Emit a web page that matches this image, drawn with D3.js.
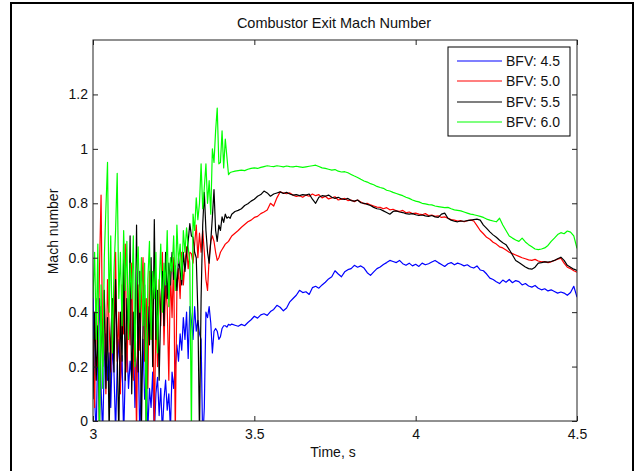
<!DOCTYPE html>
<html>
<head>
<meta charset="utf-8">
<script src="https://cdn.jsdelivr.net/npm/d3@7"></script>
<style>
  html, body { margin: 0; padding: 0; background: #fff; }
  svg { display: block; }
  text { font-family: "Liberation Sans", Arial, Helvetica, sans-serif; fill: #111; }
</style>
</head>
<body>
<svg id="chart" width="635" height="471"></svg>
<script>
// Sample grid: 5 ms steps through the unstable start-up, 10 ms steps afterwards
const fineTimes = d3.range(86).map(i => +(3 + i * 0.005).toFixed(3));     // 3.000 .. 3.425
const coarseTimes = d3.range(108).map(i => +(3.43 + i * 0.01).toFixed(2)); // 3.43 .. 4.50
const time = fineTimes.concat(coarseTimes);

const seriesNames = ["BFV: 4.5", "BFV: 5.0", "BFV: 5.5", "BFV: 6.0"];
const xTicks = [3, 3.5, 4, 4.5];
const yTicks = [0, 0.2, 0.4, 0.6, 0.8, 1, 1.2];

// Mach number at the combustor exit, one array per back-flow valve setting
const bfv45 = [
  0.50, 0.08, -0.05, 0.30, 0.45, 0.12, -0.05, 0.22, 0.32, 0.15,
  0.25, 0.05, 0.28, 0.18, -0.04, 0.20, 0.30, 0.14, 0.24, -0.06,
  0.18, 0.28, 0.12, 0.22, 0.16, 0.34, 0.05, 0.20, 0.26, -0.05,
  0.15, 0.30, 0.08, 0.14, -0.03, 0.12, 0.05, 0.18, -0.05, 0.10,
  0.16, 0.02, 0.12, -0.04, 0.08, 0.15, 0.04, 0.10, -0.03, 0.18,
  0.12, 0.20, 0.28, 0.22, 0.32, 0.26, 0.38, 0.30, 0.40, 0.23,
  0.42, 0.37, 0.30, 0.42, 0.33, 0.37, 0.32, 0.30, -0.08, 0.05,
  0.40, 0.38, 0.42, 0.36, 0.25, 0.33, 0.34, 0.33, 0.30, 0.31,
  0.34, 0.35, 0.35, 0.345, 0.355, 0.352,
  0.356, 0.352, 0.348, 0.355, 0.350, 0.362, 0.372, 0.385, 0.378, 0.390,
  0.394, 0.388, 0.402, 0.410, 0.425, 0.418, 0.405, 0.415, 0.438, 0.450,
  0.462, 0.480, 0.472, 0.475, 0.465, 0.490, 0.495, 0.488, 0.500, 0.510,
  0.522, 0.530, 0.552, 0.540, 0.530, 0.548, 0.556, 0.560, 0.572, 0.565,
  0.570, 0.562, 0.545, 0.535, 0.548, 0.560, 0.566, 0.575, 0.582, 0.590,
  0.586, 0.582, 0.590, 0.578, 0.572, 0.580, 0.570, 0.576, 0.568, 0.580,
  0.574, 0.578, 0.584, 0.590, 0.582, 0.575, 0.568, 0.578, 0.582, 0.574,
  0.580, 0.576, 0.570, 0.574, 0.566, 0.562, 0.570, 0.555, 0.552, 0.540,
  0.525, 0.520, 0.512, 0.505, 0.518, 0.510, 0.520, 0.508, 0.516, 0.512,
  0.500, 0.505, 0.496, 0.492, 0.498, 0.488, 0.482, 0.486, 0.478, 0.482,
  0.476, 0.470, 0.474, 0.470, 0.462, 0.472, 0.495, 0.455
];

const bfv50 = [
  0.30, 0.05, 0.45, 0.20, 0.55, 0.83, 0.25, 0.48, 0.10, 0.52,
  0.35, 0.18, 0.45, 0.30, 0.62, 0.22, 0.40, 0.10, 0.50, 0.32,
  0.65, 0.18, 0.42, 0.28, 0.58, 0.15, 0.38, -0.05, 0.50, 0.26,
  0.44, 0.60, 0.22, 0.45, 0.12, 0.55, 0.30, 0.48, -0.04, 0.40,
  0.20, 0.52, 0.35, 0.62, 0.28, 0.50, 0.42, 0.15, 0.55, 0.38,
  0.60, -0.05, 0.48, 0.56, 0.45, 0.62, 0.50, 0.58, 0.64, 0.56,
  0.62, 0.615, 0.58, 0.65, 0.72, 0.60, 0.69, 0.62, 0.70, 0.62,
  0.52, 0.48, 0.60, 0.66, 0.68, 0.66, 0.62, 0.59, 0.60, 0.62,
  0.63, 0.64, 0.65, 0.655, 0.66, 0.67,
  0.680, 0.690, 0.700, 0.712, 0.722, 0.732, 0.738, 0.748, 0.752, 0.762,
  0.768, 0.775, 0.800, 0.790, 0.820, 0.842, 0.838, 0.835, 0.838, 0.830,
  0.825, 0.828, 0.822, 0.830, 0.826, 0.834, 0.828, 0.832, 0.820, 0.826,
  0.816, 0.820, 0.824, 0.812, 0.815, 0.818, 0.810, 0.812, 0.806, 0.812,
  0.805, 0.798, 0.800, 0.794, 0.790, 0.786, 0.785, 0.780, 0.784, 0.776,
  0.778, 0.772, 0.770, 0.774, 0.765, 0.768, 0.762, 0.764, 0.760, 0.758,
  0.762, 0.755, 0.757, 0.752, 0.754, 0.748, 0.750, 0.745, 0.740, 0.738,
  0.735, 0.736, 0.732, 0.736, 0.738, 0.735, 0.718, 0.700, 0.688, 0.675,
  0.668, 0.657, 0.650, 0.640, 0.636, 0.628, 0.620, 0.615, 0.610, 0.605,
  0.600, 0.596, 0.592, 0.590, 0.594, 0.588, 0.585, 0.586, 0.582, 0.585,
  0.590, 0.595, 0.598, 0.580, 0.565, 0.560, 0.552, 0.547
];

const bfv55 = [
  0.08, 0.40, 0.15, 0.35, -0.05, 0.42, 0.20, 0.48, 0.12, 0.38,
  -0.04, 0.30, 0.45, 0.18, 0.52, 0.25, -0.05, 0.40, 0.22, 0.60,
  0.15, 0.45, 0.30, 0.68, 0.10, 0.40, 0.22, 0.72, 0.18, 0.55,
  -0.04, 0.35, 0.50, -0.05, 0.42, 0.28, 0.60, 0.20, 0.74, 0.30,
  0.48, 0.15, 0.42, 0.55, 0.35, 0.62, 0.45, 0.58, 0.50, 0.62,
  0.52, 0.57, 0.48, 0.60, 0.55, 0.50, 0.62, 0.55, 0.615, 0.66,
  0.725, 0.68, 0.675, 0.62, 0.60, 0.40, -0.05, 0.45, 0.72, 0.84,
  0.70, 0.62, 0.58, 0.66, 0.75, 0.85, 0.70, 0.66, 0.72, 0.70,
  0.75, 0.73, 0.76, 0.745, 0.75, 0.745,
  0.760, 0.770, 0.774, 0.780, 0.792, 0.798, 0.808, 0.815, 0.826, 0.832,
  0.845, 0.838, 0.826, 0.834, 0.838, 0.842, 0.836, 0.840, 0.834, 0.830,
  0.832, 0.828, 0.832, 0.830, 0.834, 0.815, 0.800, 0.822, 0.828, 0.826,
  0.830, 0.822, 0.818, 0.822, 0.816, 0.814, 0.818, 0.810, 0.808, 0.812,
  0.802, 0.800, 0.796, 0.792, 0.785, 0.780, 0.778, 0.772, 0.766, 0.760,
  0.770, 0.772, 0.768, 0.766, 0.762, 0.760, 0.762, 0.758, 0.755, 0.757,
  0.754, 0.752, 0.755, 0.750, 0.748, 0.760, 0.764, 0.745, 0.738, 0.734,
  0.732, 0.735, 0.734, 0.736, 0.738, 0.740, 0.742, 0.738, 0.720, 0.708,
  0.695, 0.684, 0.675, 0.664, 0.655, 0.648, 0.630, 0.610, 0.590, 0.582,
  0.574, 0.566, 0.560, 0.558, 0.565, 0.580, 0.582, 0.585, 0.584, 0.586,
  0.590, 0.596, 0.602, 0.590, 0.572, 0.565, 0.558, 0.553
];

const bfv60 = [
  0.45, 0.62, 0.30, 0.65, -0.05, 0.50, 0.12, 0.60, 0.78, 0.95,
  0.40, 0.68, 0.25, 0.55, 0.70, 0.91, 0.45, 0.62, 0.35, 0.70,
  0.48, 0.66, 0.30, 0.58, 0.45, 0.68, 0.20, 0.55, 0.64, 0.40,
  0.60, 0.35, 0.58, -0.05, 0.52, 0.66, 0.30, 0.55, 0.45, 0.62,
  0.25, 0.50, 0.65, 0.40, 0.58, 0.50, 0.70, 0.42, 0.60, 0.55,
  0.68, 0.48, 0.72, 0.58, 0.65, 0.52, 0.70, 0.62, 0.71, 0.64,
  0.58, -0.05, 0.76, 0.70, 0.82, 0.74, 0.80, 0.945, 0.78, 0.857,
  0.945, 0.80, 0.883, 0.76, 1.00, 0.95, 1.066, 1.15, 0.945, 0.95,
  1.066, 0.93, 1.036, 0.97, 0.905, 0.913,
  0.915, 0.918, 0.920, 0.922, 0.920, 0.925, 0.928, 0.930, 0.928, 0.932,
  0.935, 0.938, 0.936, 0.935, 0.938, 0.936, 0.934, 0.937, 0.935, 0.934,
  0.936, 0.934, 0.932, 0.934, 0.936, 0.938, 0.940, 0.935, 0.930, 0.928,
  0.925, 0.922, 0.924, 0.918, 0.915, 0.916, 0.912, 0.906, 0.900, 0.895,
  0.888, 0.882, 0.878, 0.872, 0.868, 0.862, 0.858, 0.855, 0.848, 0.845,
  0.840, 0.836, 0.832, 0.828, 0.822, 0.818, 0.812, 0.808, 0.805, 0.800,
  0.798, 0.795, 0.794, 0.790, 0.788, 0.786, 0.784, 0.785, 0.780, 0.776,
  0.774, 0.772, 0.768, 0.764, 0.760, 0.758, 0.755, 0.752, 0.748, 0.742,
  0.738, 0.735, 0.732, 0.745, 0.720, 0.700, 0.680, 0.672, 0.665, 0.660,
  0.672, 0.658, 0.648, 0.640, 0.632, 0.630, 0.632, 0.636, 0.645, 0.660,
  0.672, 0.685, 0.692, 0.688, 0.698, 0.694, 0.680, 0.634
];

const seriesValues = [bfv45, bfv50, bfv55, bfv60];
const seriesColors = ["#0000ff", "#ff0000", "#000000", "#00ff00"];

const svg = d3.select("#chart");

// Figure frame
svg.append("rect")
  .attr("x", 11).attr("y", 3)
  .attr("width", 622).attr("height", 480)
  .attr("fill", "none").attr("stroke", "#000").attr("stroke-width", 2);

const plot = { left: 93, right: 577, top: 40, bottom: 421 };

const x = d3.scaleLinear().domain([3, 4.5]).range([plot.left, plot.right]);
const y = d3.scaleLinear().domain([0, 1.4]).range([plot.bottom, plot.top]);

svg.append("clipPath").attr("id", "plot-clip")
  .append("rect")
  .attr("x", plot.left).attr("y", plot.top)
  .attr("width", plot.right - plot.left).attr("height", plot.bottom - plot.top);

// Data traces
const line = d3.line().x((d, i) => x(time[i])).y(d => y(d));
const traces = svg.append("g").attr("clip-path", "url(#plot-clip)");
seriesValues.forEach((vals, k) => {
  traces.append("path")
    .datum(vals)
    .attr("d", line)
    .attr("fill", "none")
    .attr("stroke", seriesColors[k])
    .attr("stroke-width", 1.2)
    .attr("stroke-linejoin", "round");
});

// Axes with inward ticks on all four sides
const tickLen = 5;
const fmt = d => (d === 0 ? "0" : String(d));

const gx = svg.append("g").attr("transform", `translate(0,${plot.bottom})`)
  .call(d3.axisBottom(x).tickValues(xTicks).tickFormat(fmt)
    .tickSizeInner(-tickLen).tickSizeOuter(0).tickPadding(8));
const gxt = svg.append("g").attr("transform", `translate(0,${plot.top})`)
  .call(d3.axisTop(x).tickValues(xTicks).tickFormat("")
    .tickSizeInner(-tickLen).tickSizeOuter(0));
const gy = svg.append("g").attr("transform", `translate(${plot.left},0)`)
  .call(d3.axisLeft(y).tickValues(yTicks).tickFormat(fmt)
    .tickSizeInner(-tickLen).tickSizeOuter(0).tickPadding(5));
const gyr = svg.append("g").attr("transform", `translate(${plot.right},0)`)
  .call(d3.axisRight(y).tickValues(yTicks).tickFormat("")
    .tickSizeInner(-tickLen).tickSizeOuter(0));

[gx, gxt, gy, gyr].forEach(g => {
  g.select(".domain").remove();
  g.selectAll(".tick line").attr("stroke", "#222");
  g.selectAll(".tick text").attr("font-size", 14).attr("fill", "#111")
    .style("font-family", '"Liberation Sans", Arial, sans-serif');
});

svg.append("rect")
  .attr("x", plot.left).attr("y", plot.top)
  .attr("width", plot.right - plot.left).attr("height", plot.bottom - plot.top)
  .attr("fill", "none").attr("stroke", "#222").attr("stroke-width", 1);

// Title and axis labels
svg.append("text")
  .attr("x", (plot.left + plot.right) / 2 - 1).attr("y", 28)
  .attr("text-anchor", "middle").attr("font-size", 14.5)
  .text("Combustor Exit Mach Number");

svg.append("text")
  .attr("x", (plot.left + plot.right) / 2 - 2).attr("y", 457)
  .attr("text-anchor", "middle").attr("font-size", 14)
  .text("Time, s");

svg.append("text")
  .attr("transform", `translate(58,${(plot.top + plot.bottom) / 2 + 1}) rotate(-90)`)
  .attr("text-anchor", "middle").attr("font-size", 14)
  .text("Mach number");

// Legend
const legend = svg.append("g");
legend.append("rect")
  .attr("x", 448).attr("y", 47).attr("width", 122).attr("height", 89)
  .attr("fill", "#fff").attr("stroke", "#000").attr("stroke-width", 1);
const legendRows = [61, 81, 102, 122];
seriesNames.forEach((name, k) => {
  const ly = legendRows[k];
  legend.append("line")
    .attr("x1", 457).attr("x2", 502).attr("y1", ly).attr("y2", ly)
    .attr("stroke", seriesColors[k]).attr("stroke-width", 1.2);
  legend.append("text")
    .attr("x", 506).attr("y", ly).attr("dy", "0.36em")
    .attr("font-size", 14)
    .text(name);
});
</script>
</body>
</html>
